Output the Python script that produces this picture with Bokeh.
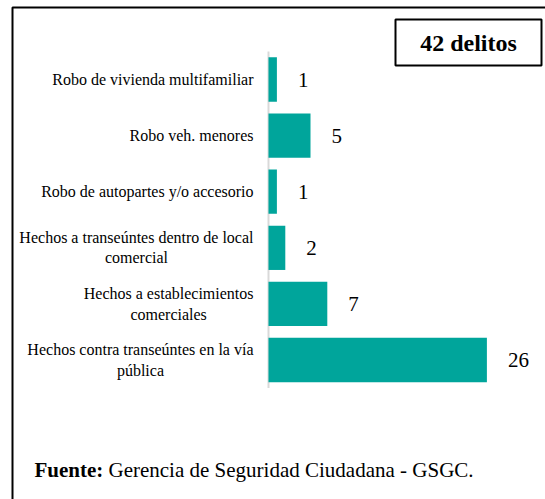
from bokeh.plotting import figure
from bokeh.models import Range1d, BoxAnnotation, ColumnDataSource
from bokeh.core.properties import value
from bokeh.embed import file_html
from bokeh.resources import INLINE

# ---- data (top to bottom as in the chart) ----
categories = [
    "Robo de vivienda multifamiliar",
    "Robo veh. menores",
    "Robo de autopartes y/o accesorio",
    "Hechos a transeúntes dentro de local\ncomercial",
    "Hechos a establecimientos\ncomerciales",
    "Hechos contra transeúntes en la vía\npública",
]
counts = [1, 5, 1, 2, 7, 26]
total_label = "42 delitos"
source_bold = "Fuente:"
source_text = "Gerencia de Seguridad Ciudadana - GSGC."

# ---- layout (pixels of the figure) ----
W, H = 545, 499
SX = 8.4          # px per unit on x
ZERO_PX = 268     # x-pixel of value 0
SY = 56.1         # px per category band
BOTTOM_CENTER_PX = 359.5  # y-pixel of the last category's centre

x_start = -ZERO_PX / SX
x_end = x_start + W / SX
y_end = BOTTOM_CENTER_PX / SY
y_start = y_end - H / SY


def fx(px):
    return x_start + px / SX


def fy(py):
    return y_end - py / SY


n = len(categories)
ypos = [n - 1 - i for i in range(n)]

src = ColumnDataSource(dict(y=ypos, v=counts, cat=categories,
                            vt=[str(c) for c in counts]))

p = figure(width=W, height=H, output_backend="svg", toolbar_location=None,
           x_range=Range1d(x_start, x_end), y_range=Range1d(y_start, y_end),
           x_axis_location=None, y_axis_location=None, min_border=0)
p.grid.visible = False
p.outline_line_color = None
p.background_fill_color = "white"
p.border_fill_color = "white"

SERIF = value("Liberation Serif")

# axis line
p.line(x=[0, 0], y=[-0.5, n - 0.5], line_color="#d9d9d9", line_width=2)

# bars
p.hbar(y="y", left=0, right="v", height=0.79, source=src,
       fill_color="#00a59b", line_color=None)

# category labels: block right-aligned to axis, lines centred
p.text(x=0, y="y", text="cat", source=src, x_offset=-15,
       anchor="center_right", text_align="center", text_baseline="middle",
       text_font=SERIF, text_font_size="16px", text_color="black",
       text_line_height=1.2)

# value labels
p.text(x="v", y="y", text="vt", source=src, x_offset=21,
       text_align="left", text_baseline="middle",
       text_font=SERIF, text_font_size="21px", text_color="black")

# outer frame (left and top edges visible)
p.add_layout(BoxAnnotation(left=fx(12), top=fy(7), right=x_end + 5, bottom=y_start - 5,
                           fill_color=None, fill_alpha=0,
                           line_color="black", line_width=2, line_alpha=1))

# total box
p.add_layout(BoxAnnotation(left=fx(395), right=fx(541), top=fy(19), bottom=fy(65),
                           fill_color=None, fill_alpha=0,
                           line_color="black", line_width=2, line_alpha=1))
p.text(x=[fx(468)], y=[fy(42)], text=[total_label], text_align="center",
       text_baseline="middle", text_font=SERIF, text_font_size="24px",
       text_font_style="bold", text_color="black")

# source note
p.text(x=[fx(34)], y=[fy(469)], text=[source_bold], text_align="left",
       text_baseline="middle", text_font=SERIF, text_font_size="21px",
       text_font_style="bold", text_color="black")
p.text(x=[fx(34)], y=[fy(469)], text=[source_text], x_offset=74,
       text_align="left", text_baseline="middle", text_font=SERIF,
       text_font_size="21px", text_color="black")

open("out.html", "w").write(file_html(p, INLINE))
